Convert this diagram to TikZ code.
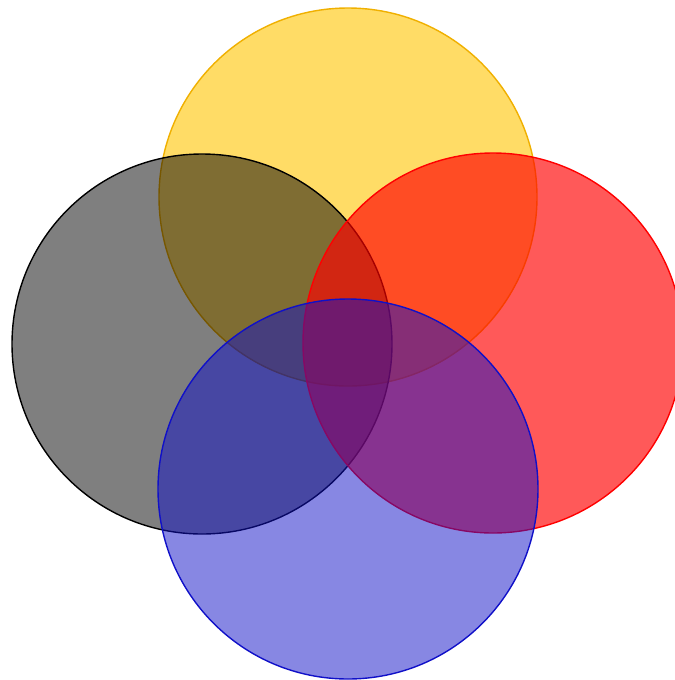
\documentclass[tikz,border=0pt]{standalone}
\usepackage{tikz}
\usetikzlibrary{calc}
\definecolor{gold}{HTML}{FFC400}
\definecolor{ring}{HTML}{F0B000}
\definecolor{rouge}{HTML}{FF0000}
\definecolor{bleu}{HTML}{1010C8}
\tikzset{
  disc/.style={line width=0.8pt,fill opacity=0.5,draw opacity=1},
}
\begin{document}
\begin{tikzpicture}[x=0.02cm,y=-0.02cm]
% Pixel frame of the picture, y pointing down.
\useasboundingbox (0,0) rectangle (675,680);
\clip (0,0) rectangle (675,680);
\coordinate (top) at (348,197);
\coordinate (left) at (202,344);
\coordinate (right) at (493,343);
\coordinate (bottom) at (348,489);
\draw[disc,ring,fill=gold,fill opacity=0.6] (top) circle[radius=189];
\draw[disc,black,fill=black] (left) circle[radius=190];
\draw[disc,rouge,fill=rouge,fill opacity=0.65] (right) circle[radius=190];
\draw[disc,bleu,fill=bleu,fill opacity=0.5] (bottom) circle[radius=190];
\end{tikzpicture}
\end{document}
